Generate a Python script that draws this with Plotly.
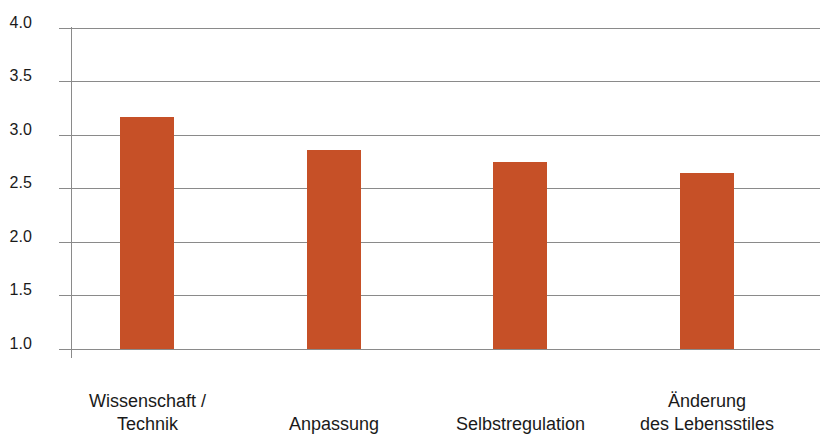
import plotly.graph_objects as go

# Mean scores per strategy
categories = ["Wissenschaft /<br>Technik", "Anpassung", "Selbstregulation", "Änderung<br>des Lebensstiles"]
values = [3.17, 2.86, 2.75, 2.65]
axis_floor = 1.0
y_ticks = [1.0, 1.5, 2.0, 2.5, 3.0, 3.5, 4.0]
y_tick_labels = ["1.0", "1.5", "2.0", "2.5", "3.0", "3.5", "4.0"]

BAR_COLOR = "#C65027"
GRID_COLOR = "#8a8a8a"
TEXT_COLOR = "#1a1a1a"
FONT = "Liberation Sans Narrow, Arial Narrow, Liberation Sans, sans-serif"

x_pos = list(range(len(categories)))

fig = go.Figure()
# Bars rise from the 1.0 baseline of the scale
fig.add_trace(go.Bar(
    x=x_pos,
    y=[v - axis_floor for v in values],
    base=axis_floor,
    width=0.29,
    marker=dict(color=BAR_COLOR, line=dict(width=0)),
    customdata=values,
    hovertemplate="%{customdata:.2f}<extra></extra>",
))

# Category labels sit bottom-aligned under each bar
for xp, label in zip(x_pos, categories):
    fig.add_annotation(
        x=xp, xref="x",
        y=-0.235, yref="paper",
        yanchor="bottom", xanchor="center",
        text=label, showarrow=False,
        align="center",
        font=dict(family=FONT, size=18, color=TEXT_COLOR),
    )

fig.update_layout(
    width=820, height=435,
    margin=dict(l=72, r=0, t=27, b=77),
    paper_bgcolor="white",
    plot_bgcolor="white",
    showlegend=False,
    font=dict(family=FONT, color=TEXT_COLOR),
    bargap=0,
)

fig.update_xaxes(
    range=[-0.402, 3.605],
    showticklabels=False,
    showgrid=False,
    zeroline=False,
    showline=False,
    ticks="",
    fixedrange=True,
)

fig.update_yaxes(
    range=[0.92, 4.01],
    tickvals=y_ticks,
    ticktext=y_tick_labels,
    showgrid=True,
    gridcolor=GRID_COLOR,
    gridwidth=1,
    zeroline=False,
    showline=True,
    linecolor=GRID_COLOR,
    linewidth=1,
    ticks="outside",
    ticklen=12,
    tickcolor=GRID_COLOR,
    tickwidth=1,
    ticklabelstandoff=24,
    ticklabelshift=-6,
    tickfont=dict(family=FONT, size=16, color=TEXT_COLOR),
    fixedrange=True,
)

fig.write_html("out.html")
